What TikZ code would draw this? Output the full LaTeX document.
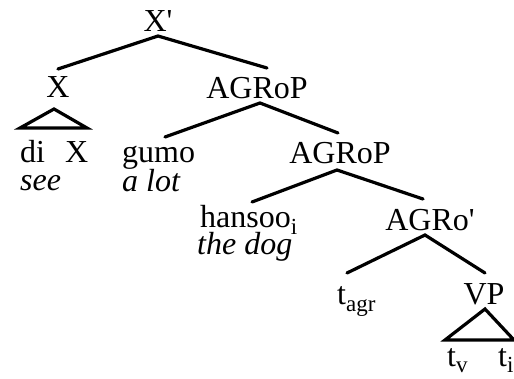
\documentclass[tikz,border=0pt]{standalone}
\usepackage{fontspec}
\setmainfont{Liberation Serif}[ItalicFont={Liberation Serif Italic},BoldFont={Liberation Serif Bold}]
\begin{document}
\begin{tikzpicture}[x=1pt,y=-1pt,
  lab/.style={anchor=base,inner sep=0pt,font=\fontsize{32}{38}\selectfont},
  labl/.style={anchor=base west,inner sep=0pt,font=\fontsize{32}{38}\selectfont},
  gloss/.style={anchor=base west,inner sep=0pt,font=\fontsize{32}{38}\selectfont\itshape},
  edge/.style={line width=3.2pt,line cap=round},
  tri/.style={line width=3.2pt,line join=miter}]
\useasboundingbox (0,0) rectangle (514,379);
\newcommand{\sbs}[1]{\raisebox{-0.2em}{\fontsize{23}{23}\selectfont #1}}
\newcommand{\pr}{\textquotesingle}
% nodes
\node[lab] (Xp) at (158,32) {X\pr};
\node[lab] (X) at (58,98) {X};
\node[lab] (AP1) at (257,99) {AGRoP};
\node[labl] (di) at (20,163) {di};
\node[labl] (Xl) at (65,163) {X};
\node[gloss] (see) at (20,191) {see};
\node[labl] (gumo) at (122,163) {gumo};
\node[gloss] (alot) at (122,192) {a lot};
\node[lab] (AP2) at (340,164) {AGRoP};
\node[labl] (hansoo) at (200,228) {hansoo\sbs{i}};
\node[gloss] (dog) at (197,255) {the dog};
\node[lab] (Ap) at (430,231) {AGRo\pr};
\node[labl] (tagr) at (337,305) {t\sbs{agr}};
\node[lab] (VP) at (484,305) {VP};
\node[labl] (tv) at (447,366) {t\sbs{v}};
\node[labl] (ti) at (498,366) {t\sbs{i}};
% connector ends
\coordinate (Xp-b) at (158,36);
\coordinate (X-t) at (58,69);
\coordinate (AP1-t) at (267,68);
\coordinate (AP1-b) at (260,103);
\coordinate (gumo-t) at (165,137);
\coordinate (AP2-t) at (338,133);
\coordinate (AP2-b) at (337,170);
\coordinate (hansoo-t) at (252,202);
\coordinate (Ap-t) at (423,199);
\coordinate (Ap-b) at (425,235);
\coordinate (tagr-t) at (347,273);
\coordinate (VP-t) at (485,273);
% edges
\draw[edge] (X-t) -- (Xp-b) -- (AP1-t);
\draw[edge] (gumo-t) -- (AP1-b) -- (AP2-t);
\draw[edge] (hansoo-t) -- (AP2-b) -- (Ap-t);
\draw[edge] (tagr-t) -- (Ap-b) -- (VP-t);
% triangles
\draw[tri] (54,109) -- (20,128) -- (87,128) -- cycle;
\draw[tri] (485,309) -- (445,340) -- (514,340) -- cycle;
\end{tikzpicture}
\end{document}
